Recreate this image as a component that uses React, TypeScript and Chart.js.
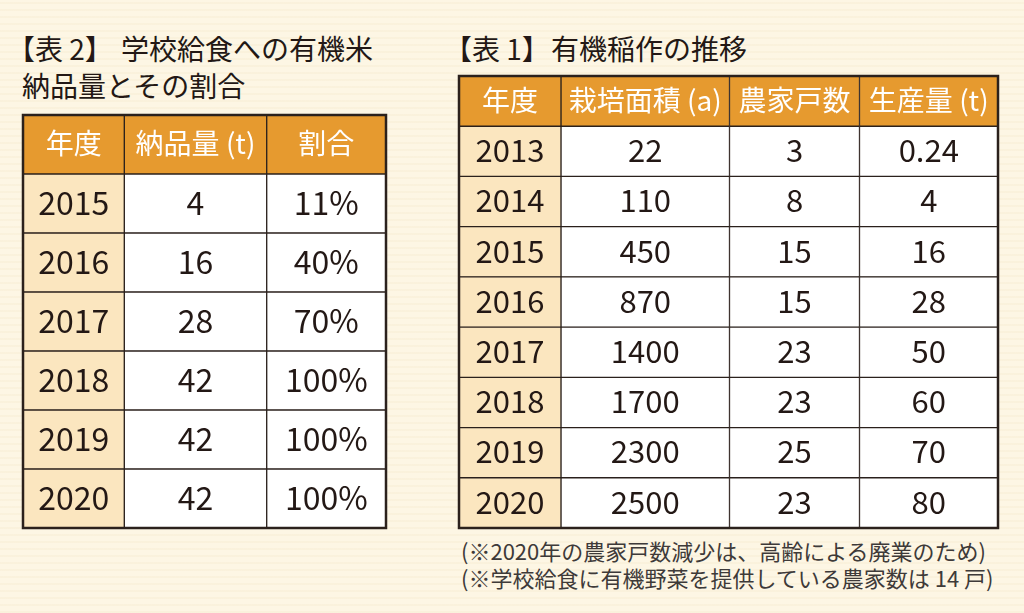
import React, { useEffect, useRef } from 'react';
import { Chart, registerables } from 'chart.js';

Chart.register(...registerables);

const FONT_FAMILY = '"Noto Sans CJK JP", "Noto Sans", sans-serif';
const ORANGE = '#e69a2f';
const BEIGE = '#fbe6bf';
const WHITE = '#ffffff';
const LINE = '#2b211c';
const TEXT = '#231815';

// 【表 2】学校給食への有機米納品量とその割合
const lunchHeaders = ['年度', '納品量 (t)', '割合'];
const lunchYears = ['2015', '2016', '2017', '2018', '2019', '2020'];
const lunchDeliveredT = [4, 16, 28, 42, 42, 42];
const lunchSharePct = [11, 40, 70, 100, 100, 100];

// 【表 1】有機稲作の推移
const riceHeaders = ['年度', '栽培面積 (a)', '農家戸数', '生産量 (t)'];
const riceYears = ['2013', '2014', '2015', '2016', '2017', '2018', '2019', '2020'];
const riceAreaA = [22, 110, 450, 870, 1400, 1700, 2300, 2500];
const riceFarms = [3, 8, 15, 15, 23, 23, 25, 23];
const riceOutputT = [0.24, 4, 16, 28, 50, 60, 70, 80];

const noteLines = [
  '(※2020年の農家戸数減少は、高齢による廃業のため)',
  '(※学校給食に有機野菜を提供している農家数は 14 戸)',
];

type TableProps = {
  headers: string[];
  rows: string[];
  columns: string[][];
  colWidths: number[];
  left: number;
  top: number;
  width: number;
  height: number;
  headerFont: string;
  bodyFont: string;
};

function TableChart(props: TableProps) {
  const ref = useRef<HTMLCanvasElement>(null);
  useEffect(() => {
    const { headers, rows, columns, colWidths, headerFont, bodyFont } = props;
    const rowLabels = ['header', ...rows];
    const edges = [0];
    colWidths.forEach((w) => edges.push(edges[edges.length - 1] + w));
    const datasets = headers.map((h, c) => ({
      label: h,
      data: rowLabels.map(() => [edges[c], edges[c + 1]]),
      backgroundColor: rowLabels.map((_, r) => (r === 0 ? ORANGE : c === 0 ? BEIGE : WHITE)),
      borderColor: LINE,
      borderWidth: 1,
      borderSkipped: false,
      barPercentage: 1,
      categoryPercentage: 1,
      grouped: false,
    }));
    const textPlugin = {
      id: 'cellText',
      afterDatasetsDraw(chart: any) {
        const ctx = chart.ctx;
        ctx.save();
        ctx.textAlign = 'center';
        ctx.textBaseline = 'middle';
        datasets.forEach((_, c) => {
          const meta = chart.getDatasetMeta(c);
          meta.data.forEach((el: any, r: number) => {
            const cx = (el.x + el.base) / 2;
            const cy = el.y;
            if (r === 0) {
              ctx.fillStyle = '#ffffff';
              ctx.font = headerFont;
              ctx.fillText(headers[c], cx, cy - 1);
            } else {
              ctx.fillStyle = TEXT;
              ctx.font = bodyFont;
              ctx.fillText(columns[c][r - 1], cx, cy - 1);
            }
          });
        });
        const a = chart.chartArea;
        ctx.strokeStyle = LINE;
        ctx.lineWidth = 2.5;
        ctx.strokeRect(a.left, a.top, a.right - a.left, a.bottom - a.top);
        ctx.restore();
      },
    };
    const chart = new Chart(ref.current as HTMLCanvasElement, {
      type: 'bar',
      data: { labels: rowLabels, datasets: datasets as any },
      options: {
        indexAxis: 'y',
        animation: false,
        responsive: false,
        maintainAspectRatio: false,
        layout: { padding: 2 },
        scales: {
          x: { type: 'linear', min: 0, max: edges[edges.length - 1], display: false },
          y: { type: 'category', offset: true, display: false },
        },
        plugins: {
          legend: { display: false },
          tooltip: { enabled: false },
          title: { display: false },
        },
      },
      plugins: [textPlugin],
    });
    return () => chart.destroy();
  }, []);
  return (
    <canvas
      ref={ref}
      width={props.width}
      height={props.height}
      style={{ position: 'absolute', left: props.left, top: props.top, width: props.width, height: props.height }}
    />
  );
}

const halt = { fontFeatureSettings: '"halt"' };
const titleStyle: React.CSSProperties = {
  position: 'absolute',
  fontFamily: FONT_FAMILY,
  fontSize: 28,
  lineHeight: '30px',
  color: TEXT,
  whiteSpace: 'nowrap',
};

export default function App() {
  return (
    <div
      style={{
        position: 'absolute',
        left: 0,
        top: 0,
        width: 1024,
        height: 613,
        overflow: 'hidden',
        background:
          'repeating-linear-gradient(0deg, rgba(240,226,192,0.22) 0px, rgba(240,226,192,0.22) 2px, rgba(255,255,255,0) 2px, rgba(255,255,255,0) 7px), #fdf6e4',
      }}
    >
      <div style={{ ...titleStyle, left: 21, top: 33 }}>
        <span style={halt}>【</span>表 2<span style={halt}>】</span>
      </div>
      <div style={{ ...titleStyle, left: 121, top: 33 }}>学校給食への有機米</div>
      <div style={{ ...titleStyle, left: 22, top: 70 }}>納品量とその割合</div>

      <div style={{ ...titleStyle, left: 458, top: 33 }}>
        <span style={halt}>【</span>表 1<span style={halt}>】</span>
      </div>
      <div style={{ ...titleStyle, left: 551, top: 33 }}>有機稲作の推移</div>

      <TableChart
        headers={lunchHeaders}
        rows={lunchYears}
        columns={[lunchYears, lunchDeliveredT.map(String), lunchSharePct.map((v) => v + '%')]}
        colWidths={[101.3, 142.4, 119.3]}
        left={21}
        top={113}
        width={367}
        height={417}
        headerFont={`400 28px ${FONT_FAMILY}`}
        bodyFont={`400 32px ${FONT_FAMILY}`}
      />
      <TableChart
        headers={riceHeaders}
        rows={riceYears}
        columns={[riceYears, riceAreaA.map(String), riceFarms.map(String), riceOutputT.map(String)]}
        colWidths={[102, 168.5, 130, 138.5]}
        left={457}
        top={74}
        width={543}
        height={456}
        headerFont={`400 28px ${FONT_FAMILY}`}
        bodyFont={`400 31px ${FONT_FAMILY}`}
      />

      <div style={{ ...titleStyle, left: 461, top: 537, fontSize: 22, lineHeight: '27px', color: '#3e3a39' }}>
        {noteLines.map((t) => (
          <div key={t}>{t}</div>
        ))}
      </div>
    </div>
  );
}
